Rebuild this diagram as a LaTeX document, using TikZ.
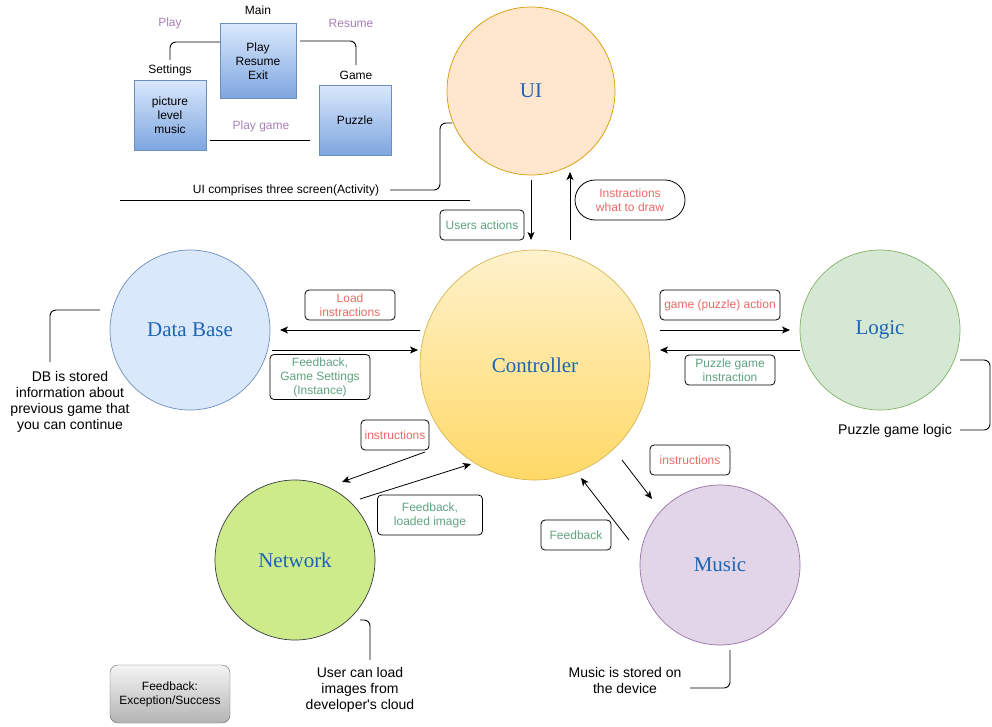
\documentclass[tikz,border=0pt]{standalone}
\usepackage{fontspec}
\setmainfont{Liberation Sans}
\newfontfamily\seriffont{Liberation Serif}
\usetikzlibrary{arrows.meta}
\definecolor{uifill}{HTML}{FFE6CC}
\definecolor{uidraw}{HTML}{D79B00}
\definecolor{ctop}{HTML}{FFF2CC}
\definecolor{cbot}{HTML}{FFD966}
\definecolor{cdraw}{HTML}{D6B656}
\definecolor{dbfill}{HTML}{DAE8FC}
\definecolor{dbdraw}{HTML}{6C8EBF}
\definecolor{lgfill}{HTML}{D5E8D4}
\definecolor{lgdraw}{HTML}{82B366}
\definecolor{nwfill}{HTML}{CDEB8B}
\definecolor{nwdraw}{HTML}{36393D}
\definecolor{mufill}{HTML}{E1D5E7}
\definecolor{mudraw}{HTML}{9673A6}
\definecolor{tblue}{RGB}{30,100,180}
\definecolor{tred}{HTML}{EA6B66}
\definecolor{tgreen}{HTML}{5FA37F}
\definecolor{tpurple}{HTML}{A680B8}
\definecolor{boxbot}{HTML}{7EA6E0}
\definecolor{gtop}{HTML}{F5F5F5}
\definecolor{gbot}{HTML}{B3B3B3}
\definecolor{gdraw}{HTML}{666666}
\tikzset{
  circ/.style={circle, minimum size=160, inner sep=0, line width=0.7pt,
    font=\seriffont\fontsize{21}{24}\selectfont, text=tblue},
  arr/.style={-{Stealth[length=8pt,width=7pt,inset=2pt]}, line width=0.8pt},
  ln/.style={line width=0.9pt, rounded corners=6pt},
  lbl/.style={draw, rounded corners=4pt, line width=0.8pt, inner sep=1pt, align=center,
    font=\fontsize{12}{14}\selectfont, minimum height=30},
  redl/.style={lbl, text=tred},
  greenl/.style={lbl, text=tgreen},
  scr/.style={draw=dbdraw, top color=dbfill, bottom color=boxbot, minimum width=72, minimum height=70,
    align=center, inner sep=0, font=\fontsize{12}{14}\selectfont},
  plain/.style={font=\fontsize{12}{14}\selectfont, inner sep=1pt, align=center},
  note/.style={font=\fontsize{14}{16}\selectfont, inner sep=1pt, align=center},
}
\begin{document}
\begin{tikzpicture}[x=1pt,y=-1pt]
\useasboundingbox (0,0) rectangle (992,726);
\fill[white] (0,0) rectangle (992,726);

% circles
\node[circ, minimum size=168, fill=uifill, draw=uidraw] (ui) at (531,91) {UI};
\node[circ, minimum size=230, top color=ctop, bottom color=cbot, draw=cdraw] (ctrl) at (535,365) {Controller};
\node[circ, fill=dbfill, draw=dbdraw] (db) at (190,330) {Data Base};
\node[circ, fill=lgfill, draw=lgdraw] (lg) at (880,330) {Logic};
\node[circ, fill=nwfill, draw=nwdraw] (nw) at (295,560) {Network};
\node[circ, fill=mufill, draw=mudraw] (mu) at (720,565) {Music};

% top-left screens
\node[scr, minimum width=76, minimum height=75] (main) at (258,61) {Play\\Resume\\Exit};
\node[scr] (set) at (170,115) {picture\\level\\music};
\node[scr] (game) at (355,120) {Puzzle};
\node[plain] (mainl) at (258,10) {Main};
\node[plain] (setl) at (170,70) {Settings};
\node[plain] (gamel) at (356,75) {Game};
\node[plain, text=tpurple] (playl) at (170,23) {Play};
\node[plain, text=tpurple] (resl) at (351,23) {Resume};
\node[plain, text=tpurple] (pgl) at (261,126) {Play game};
\draw[ln] (220,42) -- (170,42) -- (170,60);
\draw[ln] (300,41) -- (356,41) -- (356,65);
\draw[ln] (210,140) -- (310,140);

% UI comment
\draw[line width=0.9pt] (120,200) -- (470,200);
\node[plain, fill=white] (uinote) at (286,190) {UI comprises three screen(Activity)};
\draw[ln] (390,190) -- (440,190) -- (440,123) -- (452,123);

% arrow endpoints
\coordinate (ua1) at (531,180); \coordinate (ua2) at (531,240);
\coordinate (iw1) at (570,240); \coordinate (iw2) at (570,172);
\coordinate (li1) at (420,330); \coordinate (li2) at (280,330);
\coordinate (fg1) at (272,350); \coordinate (fg2) at (418,350);
\coordinate (ga1) at (660,330); \coordinate (ga2) at (790,330);
\coordinate (pg1) at (800,350); \coordinate (pg2) at (660,350);
\coordinate (in1) at (425,452); \coordinate (in2) at (342,482);
\coordinate (fl1) at (360,499); \coordinate (fl2) at (471,464);
\coordinate (im1) at (622,460); \coordinate (im2) at (652,499);
\coordinate (fm1) at (629,540); \coordinate (fm2) at (581,478);

\draw[arr] (ua1) -- (ua2);
\draw[arr] (iw1) -- (iw2);
\draw[arr] (li1) -- (li2);
\draw[arr] (fg1) -- (fg2);
\draw[arr] (ga1) -- (ga2);
\draw[arr] (pg1) -- (pg2);
\draw[arr] (in1) -- (in2);
\draw[arr] (fl1) -- (fl2);
\draw[arr] (im1) -- (im2);
\draw[arr] (fm1) -- (fm2);

% labels
\node[greenl, minimum width=84] (lua) at (482,225) {Users actions};
\node[redl, minimum width=110, minimum height=40, rounded corners=20pt] (liw) at (630,200) {Instractions\\what to draw};
\node[redl, minimum width=90] (lli) at (350,305) {Load\\instractions};
\node[greenl, minimum width=100, minimum height=45] (lfg) at (320,377) {Feedback,\\Game Settings\\(Instance)};
\node[redl, minimum width=120] (lga) at (720,305) {game (puzzle) action};
\node[greenl, minimum width=90] (lpg) at (730,370) {Puzzle game\\instraction};
\node[redl, minimum width=68] (lin) at (395,435) {instructions};
\node[greenl, minimum width=105, minimum height=40] (lfl) at (430,515) {Feedback,\\loaded image};
\node[redl, minimum width=80] (lim) at (690,460) {instructions};
\node[greenl, minimum width=70] (lfm) at (576,535) {Feedback};

% annotations
\node[note] (dbn) at (70,402) {DB is stored\\information about\\previous game that\\you can continue};
\draw[ln] (100,310) -- (50,310) -- (50,362);
\node[note] (lgn) at (895,431) {Puzzle game logic};
\draw[ln] (960,360) -- (990,360) -- (990,430) -- (960,430);
\node[note] (nwn) at (360,690) {User can load\\images from\\developer\textquotesingle s cloud};
\draw[ln] (360,620) -- (370,620) -- (370,660);
\node[note] (mun) at (625,680) {Music is stored on\\the device};
\draw[ln] (730,650) -- (730,688) -- (690,688);

% legend
\node[draw=gdraw, top color=gtop, bottom color=gbot, rounded corners=8pt, minimum width=120, minimum height=58,
  align=center, font=\fontsize{12}{14}\selectfont, inner sep=0] (leg) at (170,694) {Feedback:\\Exception/Success};
\end{tikzpicture}
\end{document}
